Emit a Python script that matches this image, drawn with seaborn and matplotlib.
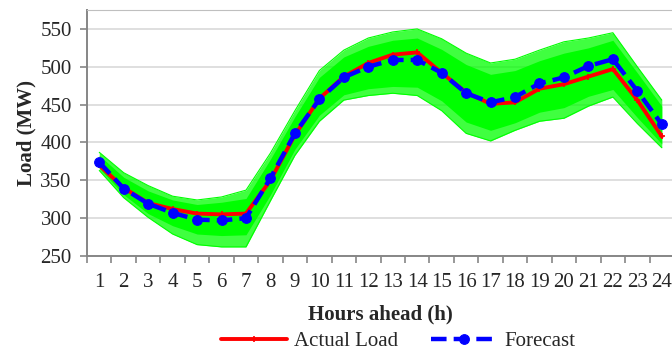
import matplotlib
matplotlib.use("Agg")
import matplotlib.pyplot as plt
import numpy as np
import pandas as pd
import seaborn as sns

hours = list(range(1, 25))

actual_load = [370, 340, 320, 312, 306, 305, 306, 350, 410, 458, 487, 505,
               516, 519, 492, 466, 451, 453, 471, 477, 487, 497, 456, 408]
forecast = [374, 339, 319, 307, 298, 297, 300, 353, 412, 457, 486, 500,
            509, 509, 492, 465, 453, 460, 478, 486, 501, 510, 468, 424]

# scenario band (outer envelope and dense core)
scen_upper = [387, 360, 343, 329, 324, 328, 337, 386, 442, 495, 522, 538,
              546, 550, 537, 518, 505, 510, 522, 533, 538, 545, 500, 456]
scen_lower = [363, 327, 301, 279, 265, 262, 262, 323, 383, 428, 456, 462,
              465, 462, 442, 412, 402, 416, 428, 432, 448, 460, 425, 393]
core_upper = [383, 354, 336, 324, 318, 321, 326, 378, 434, 486, 513, 527,
              535, 538, 523, 503, 490, 495, 508, 518, 525, 535, 492, 448]
core_lower = [366, 331, 306, 290, 279, 277, 278, 331, 391, 436, 463, 471,
              474, 473, 455, 427, 416, 426, 440, 446, 461, 470, 433, 398]

y_ticks = [250, 300, 350, 400, 450, 500, 550]

sns.set_style("white")
plt.rcParams["font.family"] = ["Liberation Serif", "DejaVu Serif"]

df = pd.DataFrame({"hour": hours, "Actual Load": actual_load, "Forecast": forecast})

fig = plt.figure(figsize=(6.72, 3.51), dpi=100)
ax = fig.add_axes([0.1295, 0.2707, 0.8735, 0.7008])

green = "#00ff00"
ax.fill_between(hours, scen_lower, scen_upper, color=green, alpha=0.75, lw=0)
ax.fill_between(hours, core_lower, core_upper, color=green, lw=0)
ax.plot(hours, scen_upper, color=green, lw=0.8)
ax.plot(hours, scen_lower, color=green, lw=0.8)

sns.lineplot(data=df, x="hour", y="Actual Load", ax=ax, color="#ff0000",
             lw=2.8, marker="+", markersize=5, mew=1.2, mec="#ff0000",
             label="Actual Load")
sns.lineplot(data=df, x="hour", y="Forecast", ax=ax, color="#0000ff",
             lw=3.2, marker="o", markersize=7, mec="#0000ff",
             dashes=(3.5, 1.6), label="Forecast")

ax.set_xlim(0.5, 24.5)
ax.set_ylim(250, 575)
ax.set_yticks(y_ticks)
ax.set_yticklabels([str(v) for v in y_ticks], fontsize=15)
ax.yaxis.grid(True, color="#d9d9d9", lw=1.2)
ax.set_axisbelow(True)

ax.set_xticks(np.arange(0.5, 25, 1))
ax.set_xticklabels([])
ax.set_xticks(hours, minor=True)
ax.set_xticklabels([str(h) for h in hours], minor=True, fontsize=15)
ax.tick_params(axis="x", which="major", length=5, color="#868686", width=1.2,
               direction="out", bottom=True)
ax.tick_params(axis="x", which="minor", length=0, pad=12)
ax.tick_params(axis="y", length=5, color="#868686", width=1.2, left=True, pad=6)

for s in ["left", "bottom"]:
    ax.spines[s].set_color("#868686")
    ax.spines[s].set_linewidth(1.4)
ax.spines["top"].set_color("#bfbfbf")
ax.spines["right"].set_visible(False)

ax.set_xlabel("Hours ahead (h)", fontsize=15, fontweight="bold", labelpad=9)
ax.set_ylabel("Load (MW)", fontsize=15, fontweight="bold", labelpad=3)

ax.get_legend().remove()
handles, labels = ax.get_legend_handles_labels()
fig.legend(handles, labels, loc="center", bbox_to_anchor=(0.592, 0.028), ncol=2,
           frameon=False, fontsize=15, handlelength=3.2, columnspacing=1.6,
           handletextpad=0.3, borderaxespad=0)

fig.savefig("out.png", dpi=100)
